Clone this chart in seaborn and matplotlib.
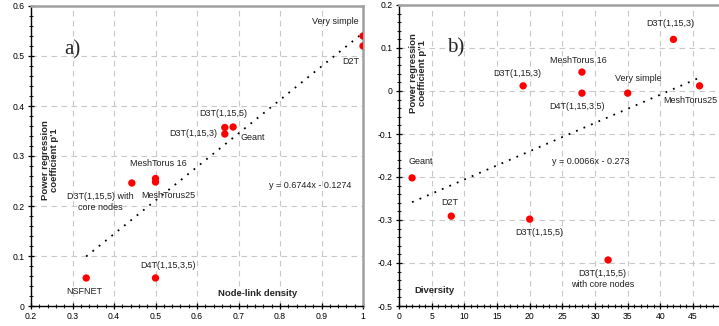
import numpy as np
import pandas as pd
import seaborn as sns
import matplotlib.pyplot as plt
from matplotlib.ticker import MultipleLocator, FormatStrFormatter, FuncFormatter

# panel a) node-link density vs p'1
dens_x = [1.0, 1.0, 0.667, 0.667, 0.687, 0.5, 0.5, 0.443, 0.333, 0.5]
dens_y = [0.54, 0.52, 0.357, 0.344, 0.358, 0.255, 0.248, 0.246, 0.056, 0.056]

# panel b) diversity vs p''1
div_x = [42, 19, 28, 28, 35, 46, 2, 8, 20, 32]
div_y = [0.12, 0.012, 0.044, -0.005, -0.005, 0.012, -0.202, -0.291, -0.298, -0.393]

# labels (text, x, y, ha)
labels_a = [
    ("Very simple", 0.99, 0.568, "right"),
    ("D2T", 0.99, 0.488, "right"),
    ("D3T(1,15,5)", 0.663, 0.386, "center"),
    ("D3T(1,15,3)", 0.648, 0.344, "right"),
    ("Geant", 0.704, 0.338, "left"),
    ("MeshTorus 16", 0.506, 0.286, "center"),
    ("MeshTorus25", 0.53, 0.22, "center"),
    ("D3T(1,15,5) with\ncore nodes", 0.366, 0.208, "center"),
    ("NSFNET", 0.328, 0.03, "center"),
    ("D4T(1,15,3,5)", 0.53, 0.082, "center"),
    ("y = 0.6744x - 0.1274", 0.872, 0.24, "center"),
]
labels_b = [
    ("D3T(1,15,3)", 41.5, 0.158, "center"),
    ("D3T(1,15,3)", 18.1, 0.04, "center"),
    ("MeshTorus 16", 27.4, 0.07, "center"),
    ("D4T(1,15,3,5)", 27.3, -0.037, "center"),
    ("Very simple", 36.6, 0.028, "center"),
    ("MeshTorus25", 44.6, -0.023, "center"),
    ("Geant", 3.4, -0.163, "center"),
    ("D2T", 7.8, -0.26, "center"),
    ("D3T(1,15,5)", 21.5, -0.328, "center"),
    ("D3T(1,15,5)\nwith core nodes", 31.1, -0.437, "center"),
    ("y = 0.0066x - 0.273", 29.4, -0.163, "center"),
]

sns.set_style("white")
plt.rcParams['font.family'] = ['Liberation Sans', 'DejaVu Sans']

fig = plt.figure(figsize=(7.19, 3.26), dpi=100)
ax1 = fig.add_axes([31/719, 20/326, 332/719, 300/326])
ax2 = fig.add_axes([399/719, 20/326, 326.7/719, 301/326])

fmt = FuncFormatter(lambda v, p: "%g" % round(v, 3))


def style_axis(ax):
    ax.grid(True, which='major', color='#c8c8c8', linestyle=(0, (5, 4)), lw=0.8)
    ax.set_axisbelow(True)
    for s in ['top', 'right']:
        ax.spines[s].set_color('#a0a0a0')
        ax.spines[s].set_linewidth(1.8)
    for s in ['left', 'bottom']:
        ax.spines[s].set_color('black')
        ax.spines[s].set_linewidth(1.0)
    ax.tick_params(which='major', direction='inout', length=5, width=0.9,
                   labelsize=6.2, colors='black', pad=2)
    ax.tick_params(which='minor', direction='inout', length=3.5, width=0.8)
    ax.tick_params(top=False, right=False, left=True, bottom=True)
    ax.tick_params(which='minor', top=False, right=False, left=True, bottom=True)
    ax.xaxis.set_major_formatter(fmt)
    ax.yaxis.set_major_formatter(fmt)
    ax.set_xlabel("")
    ax.set_ylabel("")


# panel a
sns.regplot(x=dens_x, y=dens_y, scatter=False, ci=None, ax=ax1,
            line_kws=dict(color='black', linestyle=(0, (1, 3.5)), lw=1.3))
sns.scatterplot(x=dens_x, y=dens_y, ax=ax1, color='#ff0000', s=28,
                edgecolor='none', zorder=5)
ax1.set_xlim(0.2, 1.0)
ax1.set_ylim(0, 0.6)
ax1.xaxis.set_major_locator(MultipleLocator(0.1))
ax1.xaxis.set_minor_locator(MultipleLocator(0.02))
ax1.yaxis.set_major_locator(MultipleLocator(0.1))
ax1.yaxis.set_minor_locator(MultipleLocator(0.02))
style_axis(ax1)
for t, x, y, ha in labels_a:
    ax1.text(x, y, t, ha=ha, va='center', fontsize=6.5, color='#202020',
             linespacing=1.3)
ax1.text(0.3, 0.512, "a)", fontsize=15, family='Liberation Serif',
         ha='center', va='center')
ax1.text(0.747, 0.024, "Node-link density", fontsize=6.8, weight='bold',
         ha='center', va='center')
ax1.text(0.246, 0.292, "Power regression\ncoefficient p'1", fontsize=6.8,
         weight='bold', rotation=90, ha='center', va='center', linespacing=1.1)

# panel b
sns.regplot(x=div_x, y=div_y, scatter=False, ci=None, ax=ax2,
            line_kws=dict(color='black', linestyle=(0, (1, 3.5)), lw=1.3))
sns.scatterplot(x=div_x, y=div_y, ax=ax2, color='#ff0000', s=28,
                edgecolor='none', zorder=5)
ax2.set_xlim(0, 50)
ax2.set_ylim(-0.5, 0.2)
ax2.xaxis.set_major_locator(MultipleLocator(5))
ax2.xaxis.set_minor_locator(MultipleLocator(1))
ax2.yaxis.set_major_locator(MultipleLocator(0.1))
ax2.yaxis.set_minor_locator(MultipleLocator(0.02))
style_axis(ax2)
for t, x, y, ha in labels_b:
    ax2.text(x, y, t, ha=ha, va='center', fontsize=6.5, color='#202020',
             linespacing=1.3)
ax2.text(8.7, 0.1, "b)", fontsize=15, family='Liberation Serif',
         ha='center', va='center')
ax2.text(5.5, -0.465, "Diversity", fontsize=6.8, weight='bold',
         ha='center', va='center')
ax2.text(2.9, 0.042, "Power regression\ncoefficient p''1", fontsize=6.8,
         weight='bold', rotation=90, ha='center', va='center', linespacing=1.1)

fig.savefig('out.png', dpi=100)
